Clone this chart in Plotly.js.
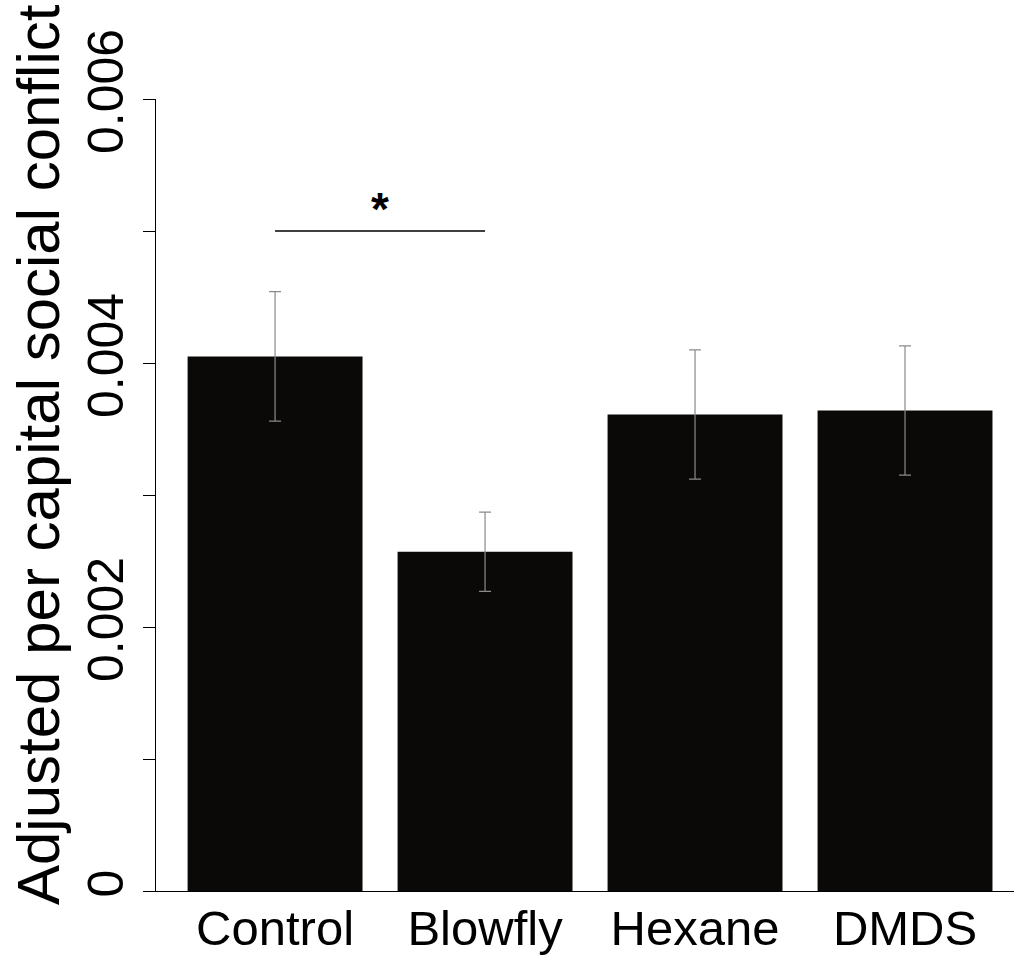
<!DOCTYPE html>
<html>
<head>
<meta charset="utf-8">
<script src="https://cdn.plot.ly/plotly-3.0.1.min.js"></script>
<style>html,body{margin:0;padding:0;background:#fff;}#chart{width:1014px;height:956px;}</style>
</head>
<body>
<div id="chart"></div>
<script>
const categories = ["Control", "Blowfly", "Hexane", "DMDS"];
const meanValues = [0.00405, 0.00257, 0.00361, 0.00364];
const errorValues = [0.00049, 0.00030, 0.00049, 0.00049];
const yTickValues = [0, 0.001, 0.002, 0.003, 0.004, 0.005, 0.006];
const yTickLabels = ["0", "", "0.002", "", "0.004", "", "0.006"];
const yTitle = "Adjusted per capital social conflict";
const sigPair = ["Control", "Blowfly"];
const sigLevel = 0.005;
const sigLabel = "*";

const font = "Liberation Sans, Arial, Helvetica, sans-serif";

const trace = {
  type: "bar",
  x: categories,
  y: meanValues,
  marker: {color: "#0a0907", line: {width: 0}},
  error_y: {type: "data", array: errorValues, visible: true, color: "#8a8a8a", thickness: 1.2, width: 6},
  hoverinfo: "x+y"
};

const layout = {
  width: 1014, height: 956,
  margin: {l: 156, r: 0, t: 99, b: 65},
  paper_bgcolor: "#fff", plot_bgcolor: "#fff",
  showlegend: false,
  bargap: 0.167,
  font: {family: font, color: "#000"},
  xaxis: {
    type: "category",
    range: [-0.567, 3.519],
    showline: true, linecolor: "#000", linewidth: 1,
    ticks: "", showgrid: false, zeroline: false,
    tickfont: {size: 49, family: font, color: "#000"},
    ticklabelstandoff: -6
  },
  yaxis: {
    range: [0, 0.006],
    tickmode: "array", tickvals: yTickValues, ticktext: yTickLabels,
    tickangle: -90,
    showline: true, linecolor: "#000", linewidth: 1,
    ticks: "outside", ticklen: 12, tickcolor: "#000", tickwidth: 1,
    showgrid: false, zeroline: false,
    tickfont: {size: 50, family: font, color: "#000"}
  },
  shapes: [{
    type: "line", xref: "x", yref: "y",
    x0: sigPair[0], x1: sigPair[1], y0: sigLevel, y1: sigLevel,
    line: {color: "#000", width: 1.5}
  }],
  annotations: [{
    xref: "x", yref: "y", x: 0.5, y: sigLevel,
    text: "<b>" + sigLabel + "</b>", showarrow: false,
    yanchor: "bottom", yshift: -6,
    font: {size: 46, family: font, color: "#000"}
  }, {
    xref: "paper", yref: "paper", x: -0.1375, y: 0.5505,
    xanchor: "center", yanchor: "middle",
    text: yTitle, textangle: -90, showarrow: false,
    font: {size: 60, family: font, color: "#000"}
  }]
};

Plotly.newPlot("chart", [trace], layout, {displayModeBar: false, staticPlot: true});
</script>
</body>
</html>
